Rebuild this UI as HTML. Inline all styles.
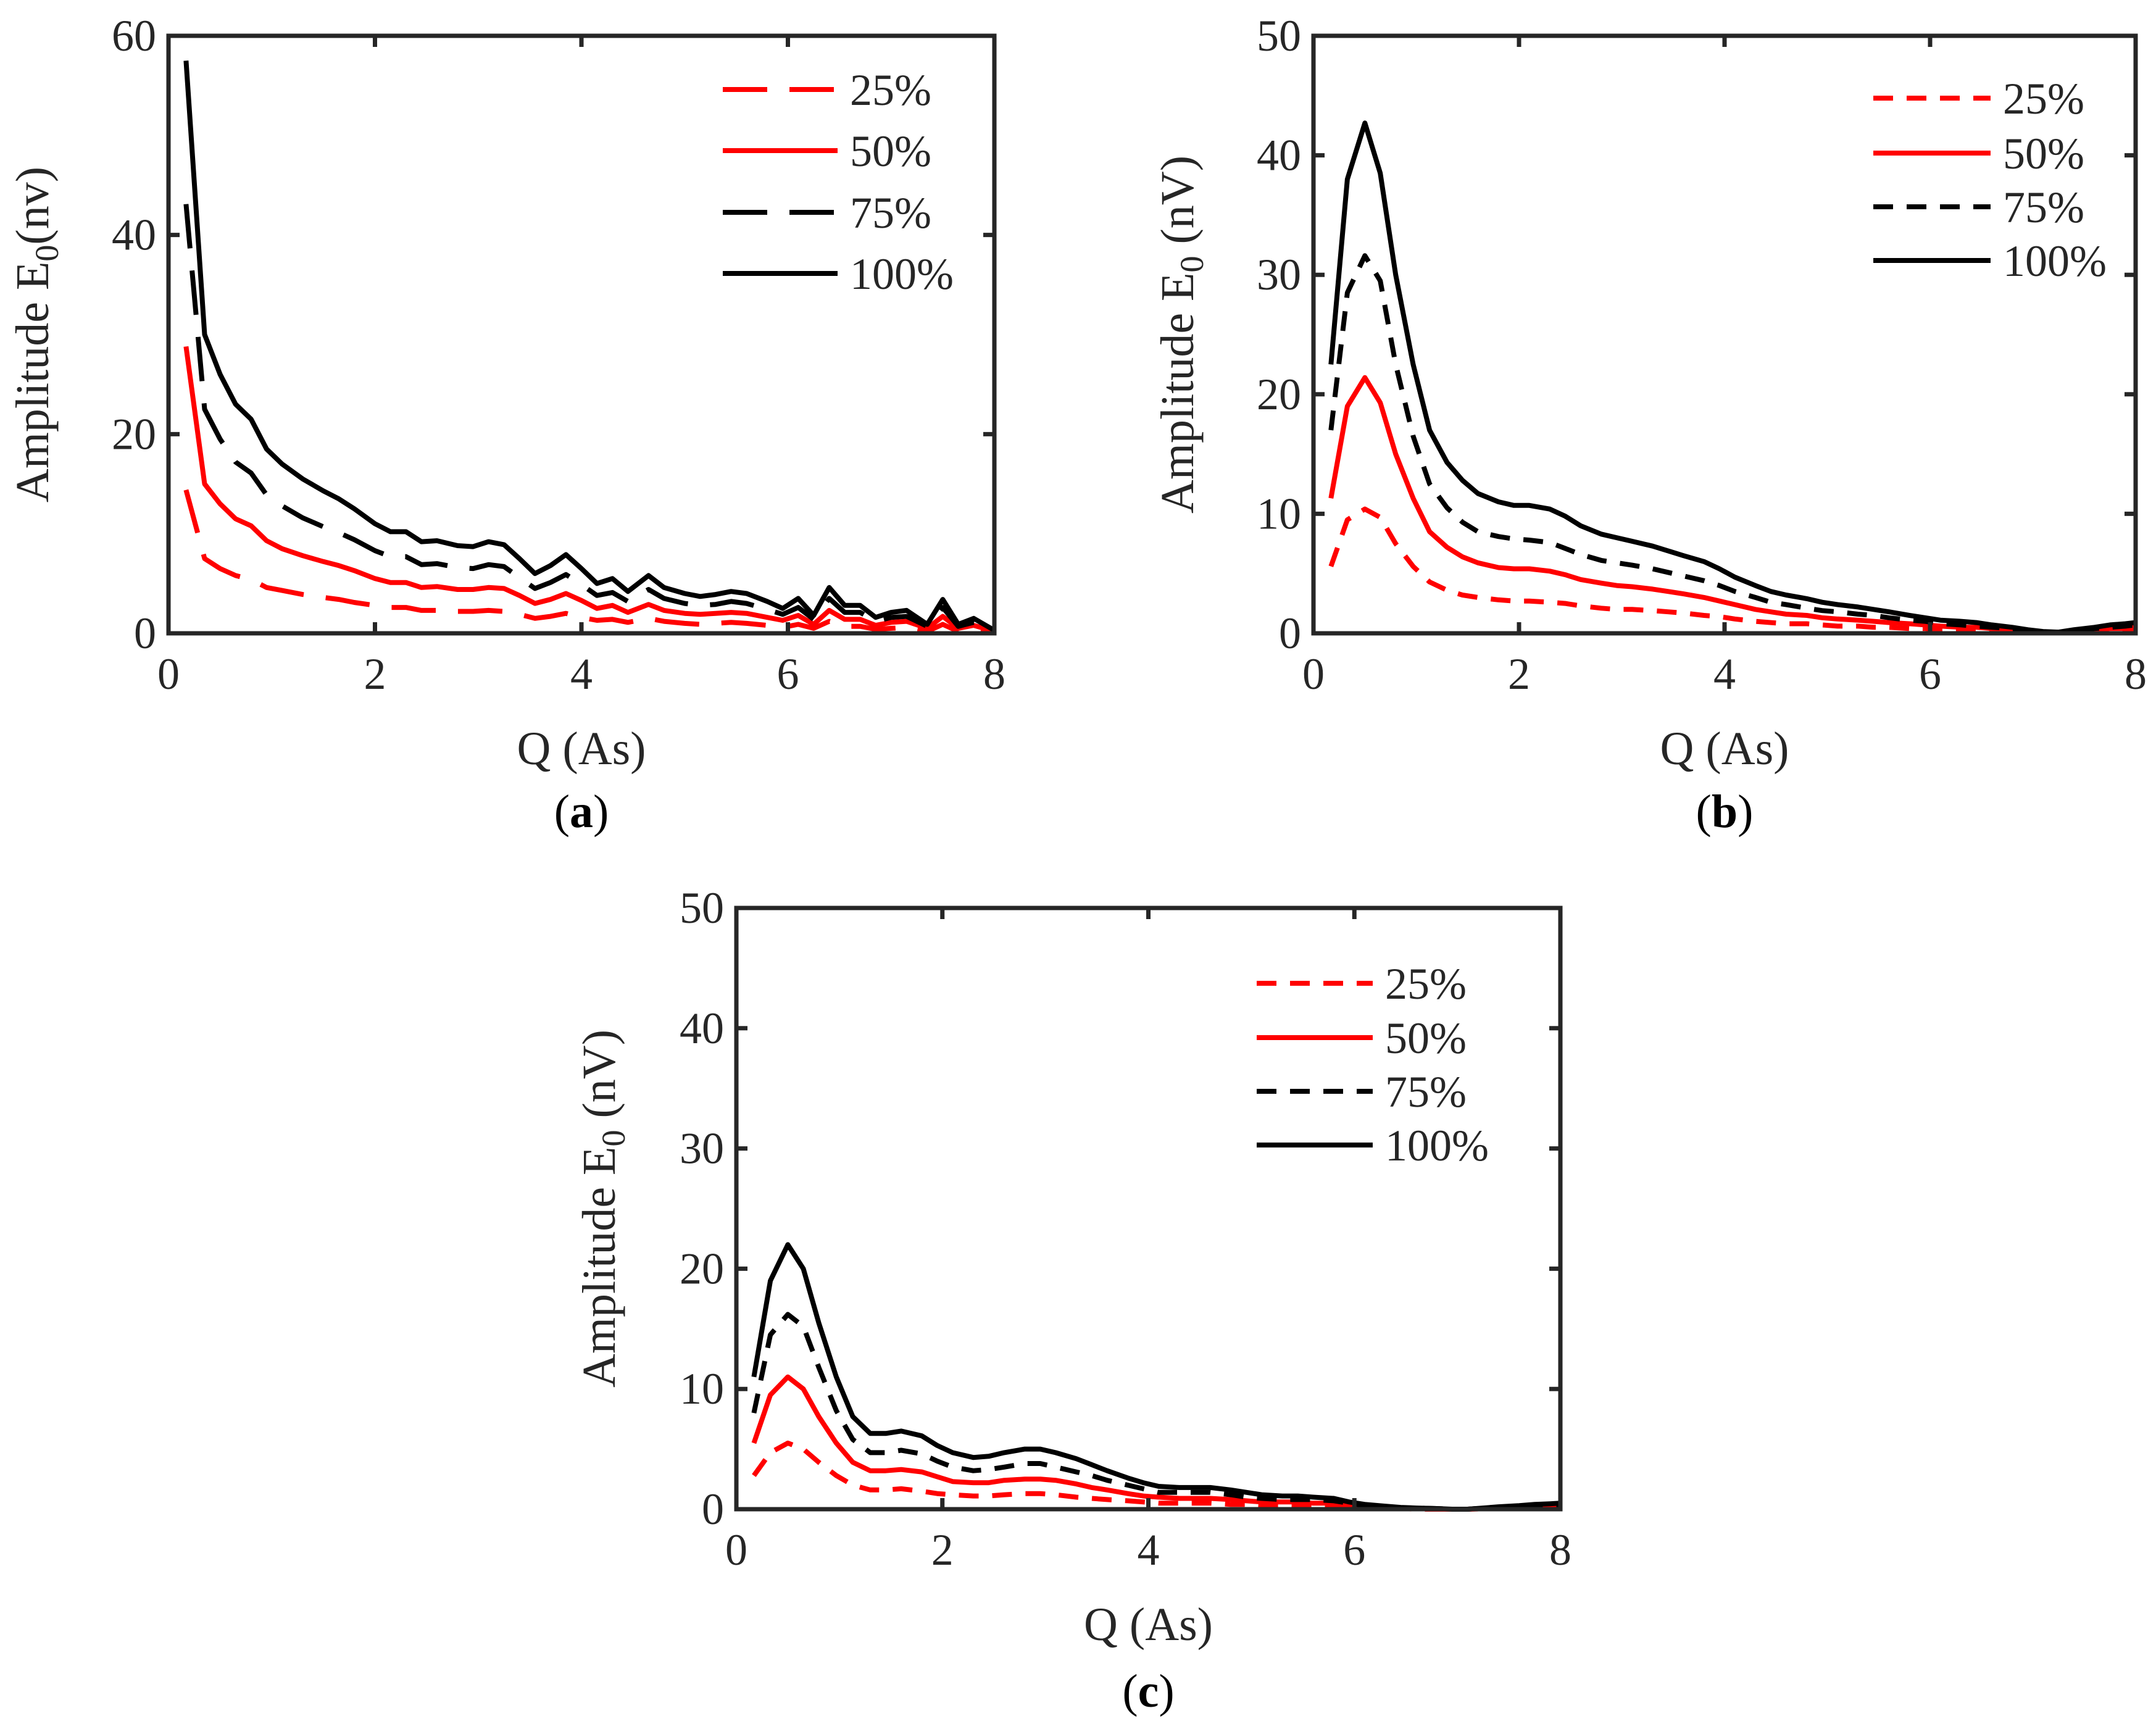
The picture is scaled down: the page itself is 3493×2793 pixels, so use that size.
<!DOCTYPE html>
<html><head><meta charset="utf-8"><style>
html,body{margin:0;padding:0;background:#fff;}
svg{display:block;font-family:"Liberation Serif",serif;}
</style></head><body>
<svg id="fig" width="3493" height="2793" viewBox="0 0 3493 2793" xmlns="http://www.w3.org/2000/svg"></svg>
<script>
const xsA=[0.17,0.35,0.5,0.65,0.8,0.95,1.1,1.3,1.5,1.65,1.8,2.0,2.15,2.3,2.45,2.6,2.8,2.95,3.1,3.25,3.4,3.55,3.7,3.85,4.0,4.15,4.3,4.45,4.65,4.8,5.0,5.15,5.3,5.45,5.6,5.8,5.95,6.1,6.25,6.4,6.55,6.7,6.85,7.0,7.15,7.35,7.5,7.65,7.8,8.0];
const a100=[57.5,30,26,23,21.5,18.5,17,15.5,14.3,13.5,12.5,11,10.2,10.2,9.2,9.3,8.8,8.7,9.2,8.9,7.5,6.0,6.8,7.9,6.5,5.0,5.5,4.2,5.8,4.6,4.0,3.7,3.9,4.2,4.0,3.2,2.5,3.5,1.8,4.6,2.8,2.8,1.6,2.1,2.3,0.9,3.4,0.9,1.5,0.3];
const a75=[43.1,22.5,19.5,17.2,16.1,13.9,12.8,11.6,10.7,10.1,9.4,8.3,7.7,7.7,6.9,7.0,6.6,6.5,6.9,6.7,5.6,4.5,5.1,5.9,4.9,3.8,4.1,3.2,4.4,3.5,3.0,2.8,2.9,3.2,3.0,2.4,1.9,2.6,1.4,3.5,2.1,2.1,1.2,1.6,1.7,0.7,2.6,0.7,1.1,0.2];
const a50=[28.8,15,13,11.5,10.8,9.3,8.5,7.8,7.2,6.8,6.3,5.5,5.1,5.1,4.6,4.7,4.4,4.4,4.6,4.5,3.8,3.0,3.4,4.0,3.3,2.5,2.8,2.1,2.9,2.3,2.0,1.9,2.0,2.1,2.0,1.6,1.3,1.8,0.9,2.3,1.4,1.4,0.8,1.1,1.2,0.5,1.7,0.5,0.8,0.2];
const a25=[14.4,7.5,6.5,5.8,5.4,4.6,4.3,3.9,3.6,3.4,3.1,2.8,2.6,2.6,2.3,2.3,2.2,2.2,2.3,2.2,1.9,1.5,1.7,2.0,1.6,1.3,1.4,1.1,1.5,1.2,1.0,0.9,1.0,1.1,1.0,0.8,0.6,0.9,0.5,1.2,0.7,0.7,0.4,0.5,0.6,0.2,0.9,0.2,0.4,0.1];
const xsB=[0.17,0.33,0.5,0.65,0.8,0.97,1.13,1.3,1.45,1.6,1.8,1.95,2.1,2.3,2.45,2.6,2.8,2.95,3.1,3.3,3.45,3.6,3.8,3.95,4.1,4.3,4.45,4.6,4.8,4.95,5.1,5.3,5.45,5.6,5.8,5.95,6.1,6.3,6.45,6.6,6.8,6.95,7.1,7.25,7.4,7.6,7.75,7.9,8.0];
const b100=[22.5,38,42.7,38.5,30,22.5,17,14.3,12.8,11.7,11,10.7,10.7,10.4,9.8,9.0,8.3,8.0,7.7,7.3,6.9,6.5,6.0,5.4,4.7,4.0,3.5,3.2,2.9,2.6,2.4,2.2,2.0,1.8,1.5,1.3,1.1,1.0,0.9,0.7,0.5,0.3,0.15,0.1,0.3,0.5,0.7,0.8,0.9];
const b75=[17,28.5,31.6,29.5,22.5,16.5,12.5,10.5,9.3,8.5,8.1,7.9,7.8,7.6,7.1,6.6,6.1,5.9,5.7,5.4,5.1,4.8,4.4,4.0,3.5,3.0,2.6,2.4,2.1,1.9,1.8,1.6,1.5,1.3,1.1,1.0,0.8,0.7,0.6,0.5,0.4,0.2,0.1,0.1,0.2,0.4,0.5,0.6,0.7];
const b50=[11.3,19,21.4,19.3,15,11.3,8.5,7.2,6.4,5.9,5.5,5.4,5.4,5.2,4.9,4.5,4.2,4.0,3.9,3.7,3.5,3.3,3.0,2.7,2.4,2.0,1.8,1.6,1.5,1.3,1.2,1.1,1.0,0.9,0.8,0.7,0.6,0.5,0.5,0.4,0.3,0.2,0.1,0.05,0.2,0.3,0.4,0.4,0.5];
const b25=[5.6,9.5,10.4,9.7,7.5,5.6,4.3,3.6,3.2,3.0,2.8,2.7,2.7,2.6,2.5,2.3,2.1,2.0,2.0,1.9,1.8,1.7,1.5,1.4,1.2,1.0,0.9,0.8,0.8,0.7,0.6,0.6,0.5,0.5,0.4,0.4,0.3,0.3,0.3,0.2,0.2,0.1,0.05,0.03,0.1,0.2,0.2,0.2,0.3];
const c100=[11,19,22,20,15.5,11,7.7,6.3,6.3,6.5,6.1,5.3,4.7,4.3,4.4,4.7,5.0,5.0,4.7,4.2,3.7,3.2,2.6,2.2,1.9,1.8,1.8,1.8,1.6,1.4,1.2,1.1,1.1,1.0,0.9,0.6,0.4,0.25,0.15,0.1,0.05,0.0,0.0,0.1,0.2,0.3,0.4,0.45,0.5];
const c75=[8,14.5,16.2,15.2,11.8,8.2,5.8,4.7,4.7,4.9,4.6,4.0,3.5,3.2,3.3,3.5,3.8,3.8,3.5,3.1,2.8,2.4,2.0,1.7,1.4,1.4,1.4,1.4,1.2,1.0,0.9,0.8,0.8,0.8,0.7,0.5,0.3,0.2,0.1,0.1,0.05,0,0,0.1,0.15,0.2,0.3,0.35,0.4];
const c50=[5.5,9.5,11,10,7.7,5.5,3.9,3.2,3.2,3.3,3.1,2.7,2.3,2.2,2.2,2.4,2.5,2.5,2.4,2.1,1.8,1.6,1.3,1.1,1.0,0.9,0.9,0.9,0.8,0.7,0.6,0.6,0.6,0.5,0.5,0.3,0.2,0.1,0.1,0.05,0,0,0,0.05,0.1,0.15,0.2,0.2,0.25];
const c25=[2.8,4.7,5.5,5.0,3.9,2.8,2.0,1.6,1.6,1.7,1.5,1.3,1.2,1.1,1.1,1.2,1.3,1.3,1.2,1.0,0.9,0.8,0.7,0.6,0.5,0.5,0.5,0.5,0.4,0.4,0.3,0.3,0.3,0.3,0.2,0.2,0.1,0.05,0.05,0,0,0,0,0.03,0.05,0.08,0.1,0.1,0.12];
const xTicks=[0,2,4,6,8];
const yTicksA=[0,20,40,60];
const yTicksBC=[0,10,20,30,40,50];
const legendLabels=["25%","50%","75%","100%"];

const NS="http://www.w3.org/2000/svg";
const svg=document.getElementById('fig');
function mk(tag,attrs,parent){const e=document.createElementNS(NS,tag);for(const k in attrs)e.setAttribute(k,attrs[k]);(parent||svg).appendChild(e);return e;}

function panel(cfg){
  const g=mk('g',{});
  
  
  const {L,R,T,B,ymax}=cfg;
  const sx=v=>L+(v/8)*(R-L), sy=v=>B-(v/ymax)*(B-T);
  const series=[
    {x:cfg.xs,y:cfg.s25,c:'#ff0000',d:cfg.dash,n:'series-25'},
    {x:cfg.xs,y:cfg.s50,c:'#ff0000',d:'',n:'series-50'},
    {x:cfg.xs,y:cfg.s75,c:'#000',d:cfg.dash,n:'series-75'},
    {x:cfg.xs,y:cfg.s100,c:'#000',d:'',n:'series-100'}];
  series.forEach(s=>{
    const pts=s.x.map((x,i)=>sx(x).toFixed(1)+','+sy(s.y[i]).toFixed(1)).join(' ');
    const p=mk('polyline',{points:pts,fill:'none',stroke:s.c,'stroke-width':8,'stroke-dasharray':s.d,'stroke-linejoin':'round'},g);
    
    
  });
  const box=mk('rect',{x:L,y:T,width:R-L,height:B-T,fill:'none',stroke:'#262626','stroke-width':7},g);
  
  
  xTicks.forEach(v=>{
    const x=sx(v);
    mk('line',{x1:x,y1:B,x2:x,y2:B-18,stroke:'#262626','stroke-width':7},g);
    mk('line',{x1:x,y1:T,x2:x,y2:T+18,stroke:'#262626','stroke-width':7},g);
    const t=mk('text',{x:x,y:B+90,'text-anchor':'middle','font-size':72,fill:'#262626'},g);
    t.textContent=v;
    
    
  });
  cfg.yt.forEach(v=>{
    const y=sy(v);
    mk('line',{x1:L,y1:y,x2:L+18,y2:y,stroke:'#262626','stroke-width':7},g);
    mk('line',{x1:R,y1:y,x2:R-18,y2:y,stroke:'#262626','stroke-width':7},g);
    const t=mk('text',{x:L-20,y:y+24,'text-anchor':'end','font-size':72,fill:'#262626'},g);
    t.textContent=v;
    
    
  });
  const xl=mk('text',{x:(L+R)/2,y:B+212,'text-anchor':'middle','font-size':76,fill:'#262626'},g);
  xl.textContent='Q (As)';
  
  
  const yl=mk('text',{transform:`translate(${cfg.ylx},${(T+B)/2}) rotate(-90)`,'text-anchor':'middle','font-size':76,fill:'#262626'},g);
  yl.innerHTML=cfg.ylab;
  
  
  const cap=mk('text',{x:(L+R)/2,y:cfg.capY,'text-anchor':'middle','font-size':76,fill:'#000'},g);
  cap.innerHTML='(<tspan font-weight="bold">'+cfg.letter+'</tspan>)';
  
  
  series.forEach((s,i)=>{
    const y=cfg.legY[i];
    const l=mk('line',{x1:cfg.legX1,y1:y,x2:cfg.legX2,y2:y,stroke:s.c,'stroke-width':8,'stroke-dasharray':s.d},g);
    
    
    const t=mk('text',{x:cfg.legX2+20,y:y+25,'font-size':72,fill:'#262626'},g);
    t.textContent=legendLabels[i];
    
    
  });
}
panel({id:'panel-a',L:273,R:1611,T:58,B:1026,ymax:60,yt:yTicksA,xs:xsA,s25:a25,s50:a50,s75:a75,s100:a100,dash:'72 36',
  ylx:78,ylab:'Amplitude E<tspan font-size="54" dy="16">0</tspan><tspan dy="-16">(nv)</tspan>',capY:1340,letter:'a',
  legX1:1171,legX2:1357,legY:[145,244,344,443]});
panel({id:'panel-b',L:2128,R:3460,T:58,B:1026,ymax:50,yt:yTicksBC,xs:xsB,s25:b25,s50:b50,s75:b75,s100:b100,dash:'32 22',
  ylx:1933,ylab:'Amplitude E<tspan font-size="54" dy="16">0</tspan><tspan dy="-16"> (nV)</tspan>',capY:1340,letter:'b',
  legX1:3035,legX2:3225,legY:[159,248,335,422]});
panel({id:'panel-c',L:1193,R:2528,T:1471,B:2445,ymax:50,yt:yTicksBC,xs:xsB,s25:c25,s50:c50,s75:c75,s100:c100,dash:'32 22',
  ylx:996,ylab:'Amplitude E<tspan font-size="54" dy="16">0</tspan><tspan dy="-16"> (nV)</tspan>',capY:2765,letter:'c',
  legX1:2036,legX2:2224,legY:[1593,1681,1768,1855]});
</script>
</body></html>
